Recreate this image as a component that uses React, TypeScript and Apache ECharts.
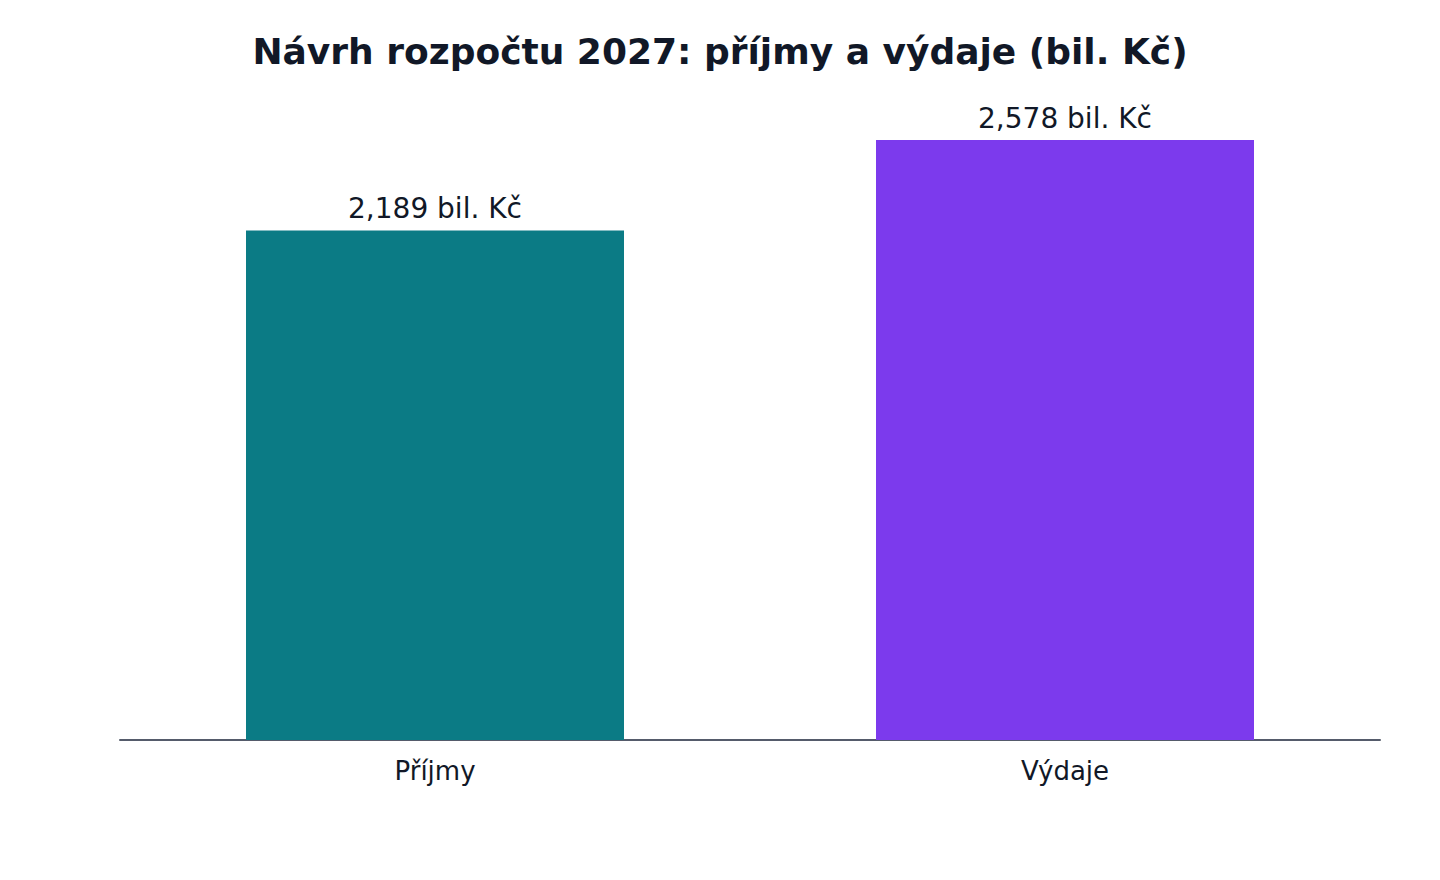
import { useEffect, useRef } from "react";
import * as echarts from "echarts";

const categories = ["Příjmy", "Výdaje"];
const values = [2.189, 2.578];
const barColors = ["#0b7b85", "#7c3aed"];

const FONT = "DejaVu Sans, sans-serif";

function App() {
  const chartRef = useRef<HTMLDivElement>(null);

  useEffect(() => {
    if (!chartRef.current) return;
    const chart = echarts.init(chartRef.current, undefined, { renderer: "svg" });

    const option: echarts.EChartsOption = {
      animation: false,
      backgroundColor: "#ffffff",
      title: {
        text: "Návrh rozpočtu 2027: příjmy a výdaje (bil. Kč)",
        left: "center",
        top: 28,
        textStyle: {
          fontFamily: FONT,
          fontSize: 36,
          fontWeight: "bold",
          color: "#111827",
        },
      },
      grid: {
        left: 120,
        right: 60,
        top: 80,
        bottom: 140,
      },
      xAxis: {
        type: "category",
        data: categories,
        axisLine: { lineStyle: { color: "#555b6b", width: 2 } },
        axisTick: { show: false },
        axisLabel: {
          fontFamily: FONT,
          fontSize: 26,
          color: "#111827",
          margin: 18,
        },
      },
      yAxis: {
        type: "value",
        min: 0,
        max: 2.836,
        show: false,
        splitLine: { show: false },
      },
      series: [
        {
          type: "bar",
          barWidth: "60%",
          data: values.map((v, i) => ({
            value: v,
            itemStyle: { color: barColors[i] },
          })),
          label: {
            show: true,
            position: "top",
            distance: 8,
            fontFamily: FONT,
            fontSize: 28,
            color: "#111827",
            formatter: (p: any) =>
              `${p.value.toFixed(3).replace(".", ",")} bil. Kč`,
          },
        },
      ],
    };

    chart.setOption(option);
    return () => {
      chart.dispose();
    };
  }, []);

  return (
    <div
      ref={chartRef}
      style={{
        position: "fixed",
        top: 0,
        left: 0,
        width: 1440,
        height: 880,
      }}
    />
  );
}

export default App;
